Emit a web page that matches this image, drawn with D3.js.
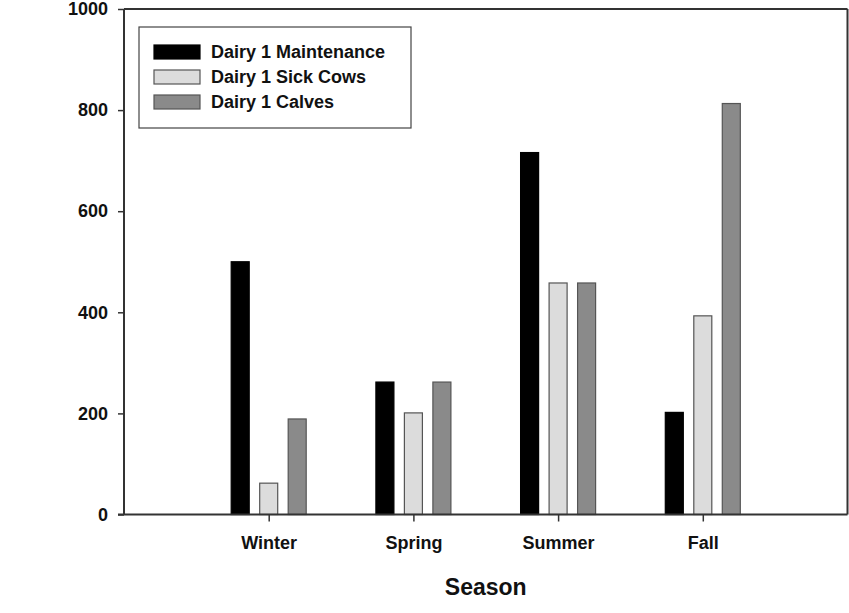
<!DOCTYPE html>
<html><head><meta charset="utf-8">
<script src="https://cdn.jsdelivr.net/npm/d3@7"></script>
<style>body{margin:0;background:#fff}svg{display:block}text{font-family:"Liberation Sans",Arial,sans-serif}</style>
</head><body><svg id="c" width="849" height="613"></svg>
<script>
const categories = ["Winter", "Spring", "Summer", "Fall"];
const seriesNames = ["Dairy 1 Maintenance", "Dairy 1 Sick Cows", "Dairy 1 Calves"];
const maintenance = [500, 262, 716, 202];
const sickCows = [62, 201, 458, 393];
const calves = [189, 262, 458, 813];
const yTicks = [0, 200, 400, 600, 800, 1000];
const colors = ["#000000", "#dcdcdc", "#8a8a8a"];
const strokes = ["#000000", "#555555", "#555555"];

const series = [maintenance, sickCows, calves];
const svg = d3.select("#c");
const L = 124, R = 847.5, T = 9, B = 514.5;

const xPos = d3.scalePoint().domain(["", ...categories, " "]).range([L, R]);
const xSub = d3.scaleBand().domain(d3.range(series.length)).range([-37.5, 37.5]).paddingInner(0.368);
const y = d3.scaleLinear().domain([0, 1000]).range([B, T]);

// frame top and right
svg.append("line").attr("x1", L).attr("x2", R).attr("y1", T).attr("y2", T).attr("stroke", "#333").attr("stroke-width", 2);
svg.append("line").attr("x1", R).attr("x2", R).attr("y1", T).attr("y2", B).attr("stroke", "#333").attr("stroke-width", 2);

// bars
series.forEach((vals, si) => {
  svg.append("g").selectAll("rect").data(vals).join("rect")
    .attr("x", (d, i) => xPos(categories[i]) + xSub(si))
    .attr("width", xSub.bandwidth())
    .attr("y", d => y(d))
    .attr("height", d => B - y(d))
    .attr("fill", colors[si])
    .attr("stroke", strokes[si]).attr("stroke-width", 1.2);
});

// y axis
const ya = svg.append("g").attr("transform", `translate(${L},0)`)
  .call(d3.axisLeft(y).tickValues(yTicks).tickSize(6).tickPadding(10).tickFormat(d3.format("d")));
ya.select(".domain").attr("stroke", "#333").attr("stroke-width", 2).attr("d", `M0,${T}V${B}`);
ya.selectAll(".tick line").attr("stroke", "#333").attr("stroke-width", 1.5);
ya.selectAll("text").attr("font-size", 18).attr("font-weight", "bold").attr("fill", "#111");

// x axis
const xa = svg.append("g").attr("transform", `translate(0,${B})`)
  .call(d3.axisBottom(xPos).tickValues(categories).tickSize(7).tickPadding(15));
xa.select(".domain").attr("stroke", "#333").attr("stroke-width", 2).attr("d", `M${L - 6},0H${R}`);
xa.selectAll(".tick line").attr("stroke", "#333").attr("stroke-width", 1.5);
xa.selectAll("text").attr("font-size", 18).attr("font-weight", "bold").attr("fill", "#111");

svg.append("text").attr("x", (L + R) / 2).attr("y", 595).attr("text-anchor", "middle")
  .attr("font-size", 23).attr("font-weight", "bold").attr("fill", "#111").text("Season");

// legend
const lg = svg.append("g");
lg.append("rect").attr("x", 139).attr("y", 27).attr("width", 272).attr("height", 101)
  .attr("fill", "#fff").attr("stroke", "#444").attr("stroke-width", 1.2);
const legY = [52, 77, 102];
seriesNames.forEach((n, i) => {
  lg.append("rect").attr("x", 154).attr("y", legY[i] - 7).attr("width", 46).attr("height", 14)
    .attr("fill", colors[i]).attr("stroke", strokes[i]).attr("stroke-width", 1.2);
  lg.append("text").attr("x", 211).attr("y", legY[i]).attr("dy", "0.35em")
    .attr("font-size", 18).attr("font-weight", "bold").attr("fill", "#111").text(n);
});
</script></body></html>
